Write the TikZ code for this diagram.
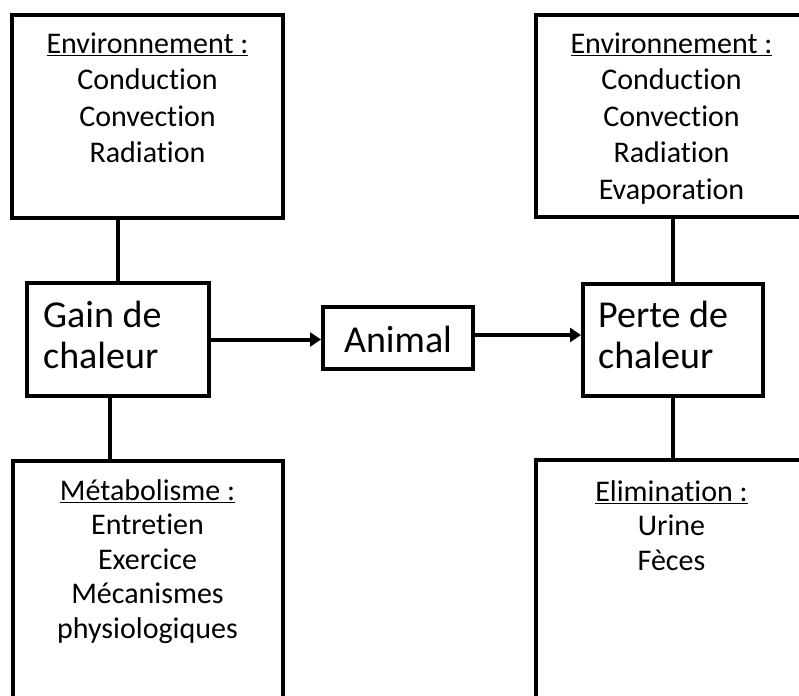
\documentclass[tikz,border=0pt]{standalone}
\usepackage{fontspec}
\setmainfont{Carlito}[Ligatures=NoCommon]
\usetikzlibrary{arrows.meta}
\tikzset{
  box/.style={draw, line width=4pt, rectangle, inner sep=0pt, fill=white},
  link/.style={line width=4pt},
  arr/.style={line width=4pt, -{Triangle[length=11pt,width=14pt]}},
  smalltxt/.style={inner sep=0pt, align=center, font=\fontsize{30}{36.5}\selectfont},
  smalltxtb/.style={inner sep=0pt, align=center, font=\fontsize{30}{34.5}\selectfont},
  bigtxt/.style={inner sep=0pt, align=left, font=\fontsize{38}{41}\selectfont},
}
\begin{document}
\begin{tikzpicture}[x=1pt,y=-1pt]
\useasboundingbox (0,0) rectangle (799,695);
\clip (0,0) rectangle (799,695);
% boxes
\node[box, minimum width=271pt, minimum height=203pt] (tl) at (147.5,116.5) {};
\node[box, minimum width=271pt, minimum height=202pt] (tr) at (671.5,116) {};
\node[box, minimum width=182pt, minimum height=113pt] (gain) at (118,339.5) {};
\node[box, minimum width=150pt, minimum height=62pt] (animal) at (398,338) {};
\node[box, minimum width=180pt, minimum height=112pt] (perte) at (673,340) {};
\node[box, minimum width=270pt, minimum height=339pt] (bl) at (148,630.5) {};
\node[box, minimum width=272pt, minimum height=340pt] (br) at (671.5,630) {};
% texts
\node[smalltxt, anchor=north] (tltxt) at (147.5,28) {\rule{0pt}{25pt}\underline{Environnement :}\\Conduction\\Convection\\Radiation};
\node[smalltxt, anchor=north] (trtxt) at (671.5,28) {\rule{0pt}{25pt}\underline{Environnement :}\\Conduction\\Convection\\Radiation\\Evaporation};
\node[smalltxtb, anchor=north] (bltxt) at (147.5,475) {\rule{0pt}{25pt}\underline{Métabolisme :}\\Entretien\\Exercice\\Mécanismes\\physiologiques};
\node[smalltxtb, anchor=north] (brtxt) at (671.5,476) {\rule{0pt}{25pt}\underline{Elimination :}\\Urine\\Fèces};
\node[bigtxt, anchor=north west] (gaintxt) at (43,297) {\rule{0pt}{30pt}Gain de\\chaleur};
\node[bigtxt, anchor=north west] (pertetxt) at (598,297) {\rule{0pt}{30pt}Perte de\\chaleur};
\node[inner sep=0pt, font=\fontsize{38}{41}\selectfont, anchor=base] (animaltxt) at (398,352) {Animal};
% connectors
\coordinate (gb) at ([xshift=-8pt]gain.south);
\draw[link] (gain.north) -- (gain.north |- tl.south);
\draw[link] (gb) -- (gb |- bl.north);
\draw[link] (perte.north) -- (perte.north |- tr.south);
\draw[link] (perte.south) -- (perte.south |- br.north);
\draw[arr] (gain.east) -- (gain.east -| animal.west);
\draw[arr] ([yshift=3pt]animal.east) -- ([yshift=3pt]animal.east -| perte.west);
\end{tikzpicture}
\end{document}
